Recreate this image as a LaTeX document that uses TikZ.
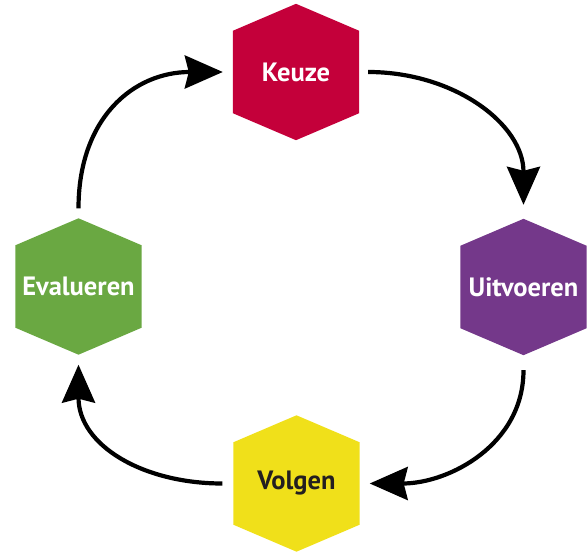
\documentclass[tikz,border=0pt]{standalone}
\usepackage{fontspec}
\setmainfont{PT Sans}
\usetikzlibrary{arrows.meta,backgrounds}
\definecolor{keuzerood}{HTML}{C4003A}
\definecolor{uitvoerenpaars}{HTML}{74388A}
\definecolor{volgengeel}{HTML}{F0E01A}
\definecolor{evaluerengroen}{HTML}{6AA842}
\definecolor{volgentekst}{HTML}{231F20}
\begin{document}
\begin{tikzpicture}[x=1pt,y=1pt,
	hexbox/.style={minimum width=126pt,minimum height=136pt,inner sep=0pt,font=\fontsize{26.5}{30}\selectfont\bfseries,text=white},
	cyclearrow/.style={-{Stealth[length=38pt,width=33pt,inset=4pt]},line width=4.2pt}]
	\useasboundingbox (0,0) rectangle (587,555);
	
	\node [hexbox] (keuze) at (296,483) {Keuze};
	\node [hexbox] (uitvoeren) at (523.5,268) {Uitvoeren};
	\node [hexbox,text=volgentekst] (volgen) at (296.5,71.5) {Volgen};
	\node [hexbox] (evalueren) at (78.5,268.5) {Evalueren};
	%hexagons behind the labels
	\begin{scope}[on background layer]
		\foreach \n/\c in {keuze/keuzerood,uitvoeren/uitvoerenpaars,volgen/volgengeel,evalueren/evaluerengroen}
		\fill [\c] (\n.north) -- ([yshift=-27pt]\n.north east) -- ([yshift=27pt]\n.south east) -- (\n.south) -- ([yshift=27pt]\n.south west) -- ([yshift=-27pt]\n.north west) -- cycle;
	\end{scope}
	
	\draw [cyclearrow,shorten <=9pt,shorten >=14pt] (keuze.east) to [out=0,in=90,looseness=1.1] (uitvoeren.north);
	\draw [cyclearrow,shorten <=15pt,shorten >=10pt] (uitvoeren.south) to [out=-90,in=0,looseness=1.1] (volgen.east);
	\draw [cyclearrow,shorten <=11pt,shorten >=10pt] (volgen.west) to [out=180,in=-90,looseness=1.15] (evalueren.south);
	\draw [cyclearrow,shorten <=10pt,shorten >=10pt] (evalueren.north) to [out=90,in=180,looseness=1.2] (keuze.west);
\end{tikzpicture}
\end{document}
